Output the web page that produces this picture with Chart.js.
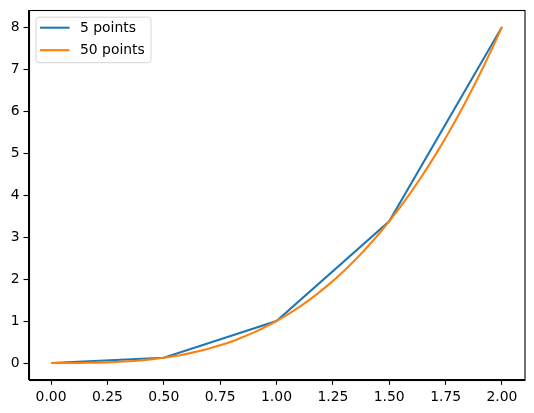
<!DOCTYPE html>
<html>
<head>
<meta charset="utf-8">
<script src="https://cdn.jsdelivr.net/npm/chart.js@4/dist/chart.umd.min.js"></script>
<style>
html,body{margin:0;padding:0;background:#fff;}
canvas{display:block;}
</style>
</head>
<body>
<canvas id="c" width="534" height="413"></canvas>
<script>
const xTicks = [0, 0.25, 0.5, 0.75, 1.0, 1.25, 1.5, 1.75, 2.0];
const yTicks = [0, 1, 2, 3, 4, 5, 6, 7, 8];
const seriesNames = ["5 points", "50 points"];
const x5 = [0, 0.5, 1.0, 1.5, 2.0];
const y5 = [0, 0.125, 1.0, 3.375, 8.0];
const x50 = [0, 0.0408, 0.0816, 0.1224, 0.1633, 0.2041, 0.2449, 0.2857, 0.3265, 0.3673,
  0.4082, 0.4490, 0.4898, 0.5306, 0.5714, 0.6122, 0.6531, 0.6939, 0.7347, 0.7755,
  0.8163, 0.8571, 0.8980, 0.9388, 0.9796, 1.0204, 1.0612, 1.1020, 1.1429, 1.1837,
  1.2245, 1.2653, 1.3061, 1.3469, 1.3878, 1.4286, 1.4694, 1.5102, 1.5510, 1.5918,
  1.6327, 1.6735, 1.7143, 1.7551, 1.7959, 1.8367, 1.8776, 1.9184, 1.9592, 2.0];
const y50 = [0, 0.000068, 0.000544, 0.001836, 0.004352, 0.0085, 0.014688, 0.023324, 0.034815, 0.049571,
  0.067999, 0.090507, 0.117502, 0.149394, 0.186589, 0.229496, 0.278523, 0.334078, 0.396570, 0.466404,
  0.543991, 0.629738, 0.724052, 0.827338, 0.940008, 1.062482, 1.195148, 1.338422, 1.492711, 1.658424,
  1.835970, 2.025755, 2.228187, 2.443676, 2.672628, 2.915452, 3.172556, 3.444347, 3.731235, 4.033625,
  4.351928, 4.686551, 5.037901, 5.406387, 5.792416, 6.196398, 6.618739, 7.059848, 7.520132, 8.0];

const colors = ["#1f77b4", "#ff7f0e"];
const FONT = "'DejaVu Sans', sans-serif";

function pts(xs, ys){ return xs.map((x,i)=>({x:x, y:ys[i]})); }

const frameAndLegend = {
  id: 'frameAndLegend',
  afterDraw(chart){
    const ctx = chart.ctx, a = chart.chartArea;
    ctx.save();
    ctx.strokeStyle = '#000';
    ctx.lineWidth = 1.1;
    ctx.strokeRect(Math.round(a.left)+0.5, Math.round(a.top)+0.5, Math.round(a.right-a.left)-1+0.5, Math.round(a.bottom-a.top));
    // legend
    const lx = a.left + 7.5, ly = a.top + 7, lw = 115, lh = 45.5, r = 3;
    ctx.beginPath();
    ctx.moveTo(lx+r, ly);
    ctx.lineTo(lx+lw-r, ly); ctx.quadraticCurveTo(lx+lw, ly, lx+lw, ly+r);
    ctx.lineTo(lx+lw, ly+lh-r); ctx.quadraticCurveTo(lx+lw, ly+lh, lx+lw-r, ly+lh);
    ctx.lineTo(lx+r, ly+lh); ctx.quadraticCurveTo(lx, ly+lh, lx, ly+lh-r);
    ctx.lineTo(lx, ly+r); ctx.quadraticCurveTo(lx, ly, lx+r, ly);
    ctx.closePath();
    ctx.fillStyle = 'rgba(255,255,255,0.8)';
    ctx.fill();
    ctx.strokeStyle = '#d6d6d6';
    ctx.lineWidth = 1;
    ctx.stroke();
    ctx.font = '13.9px ' + FONT;
    ctx.textBaseline = 'middle';
    ctx.textAlign = 'left';
    seriesNames.forEach((name, i) => {
      const yy = ly + 10.5 + i*22.5;
      ctx.strokeStyle = colors[i];
      ctx.lineWidth = 2.08;
      ctx.beginPath();
      ctx.moveTo(lx + 4, yy);
      ctx.lineTo(lx + 33.5, yy);
      ctx.stroke();
      ctx.fillStyle = '#000';
      ctx.fillText(name, lx + 44, yy + 0.5);
    });
    ctx.restore();
  }
};

new Chart(document.getElementById('c'), {
  type: 'line',
  data: {
    datasets: [
      { label: seriesNames[0], data: pts(x5, y5), borderColor: colors[0], backgroundColor: colors[0],
        borderWidth: 2.08, pointRadius: 0, tension: 0, fill: false, order: 2 },
      { label: seriesNames[1], data: pts(x50, y50), borderColor: colors[1], backgroundColor: colors[1],
        borderWidth: 2.08, pointRadius: 0, tension: 0, fill: false, order: 1 }
    ]
  },
  options: {
    responsive: false,
    animation: false,
    devicePixelRatio: 1,
    layout: { padding: { top: 10.2, right: 9.5, left: 0, bottom: 0 } },
    plugins: { legend: { display: false }, tooltip: { enabled: false } },
    scales: {
      x: {
        type: 'linear', min: -0.1, max: 2.1,
        afterBuildTicks: s => { s.ticks = xTicks.map(v => ({value: v})); },
        afterFit: s => { s.height = 33.2; s.paddingLeft = 0; s.paddingRight = 0; },
        grid: { drawOnChartArea: false, color: '#000', tickLength: 5, tickWidth: 1.1 },
        border: { color: '#000', width: 1.1 },
        ticks: { color: '#000', padding: 4, maxRotation: 0, autoSkip: false,
          font: { family: FONT, size: 13.9 },
          callback: v => v.toFixed(2) }
      },
      y: {
        type: 'linear', min: -0.4, max: 8.4,
        afterBuildTicks: s => { s.ticks = yTicks.map(v => ({value: v})); },
        afterFit: s => { s.width = 28.5; s.paddingTop = 0; s.paddingBottom = 0; },
        grid: { drawOnChartArea: false, color: '#000', tickLength: 5, tickWidth: 1.1 },
        border: { color: '#000', width: 1.1 },
        ticks: { color: '#000', padding: 4, autoSkip: false,
          font: { family: FONT, size: 13.9 },
          callback: v => String(v) }
      }
    }
  },
  plugins: [frameAndLegend]
});
</script>
</body>
</html>
